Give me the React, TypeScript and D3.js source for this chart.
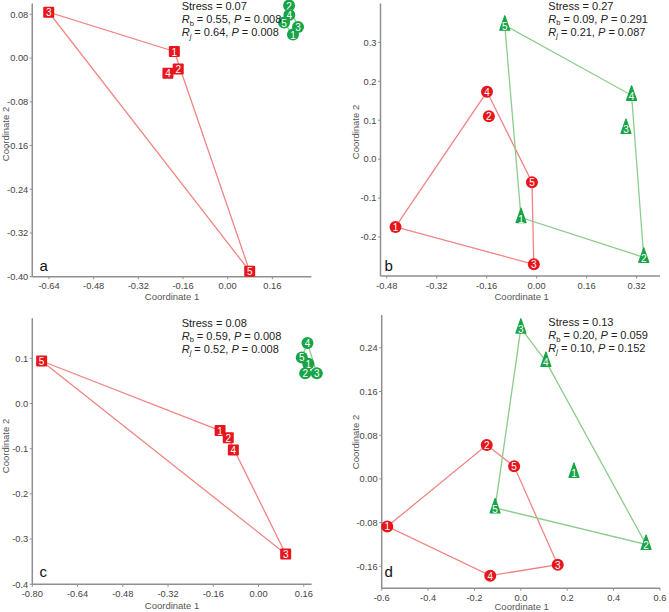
import React from 'react';
import * as d3 from 'd3';

// ---- Data ----
const pointIds = [1, 2, 3, 4, 5];

// Panel a
const aRedX = [-0.191, -0.177, -0.641, -0.214, 0.079];
const aRedY = [0.012, -0.020, 0.084, -0.028, -0.390];
const aGreenX = [0.234, 0.220, 0.252, 0.221, 0.202];
const aGreenY = [0.043, 0.096, 0.057, 0.079, 0.065];
const aXTicks = [-0.64, -0.48, -0.32, -0.16, 0.0, 0.16];
const aYTicks = [0.08, 0.0, -0.08, -0.16, -0.24, -0.32, -0.4];
const aStats = ['0.07', '0.55', '0.008', '0.64', '0.008'];

// Panel b
const bRedX = [-0.452, -0.153, -0.009, -0.159, -0.015];
const bRedY = [-0.174, 0.110, -0.270, 0.173, -0.059];
const bGreenX = [-0.050, 0.343, 0.286, 0.304, -0.102];
const bGreenY = [-0.150, -0.252, 0.079, 0.164, 0.344];
const bXTicks = [-0.48, -0.32, -0.16, 0.0, 0.16, 0.32];
const bYTicks = [0.3, 0.2, 0.1, 0.0, -0.1, -0.2];
const bStats = ['0.27', '0.09', '0.291', '0.21', '0.087'];

// Panel c
const cRedX = [-0.136, -0.107, 0.096, -0.089, -0.767];
const cRedY = [-0.060, -0.076, -0.333, -0.103, 0.094];
const cGreenX = [0.176, 0.165, 0.206, 0.173, 0.153];
const cGreenY = [0.088, 0.067, 0.067, 0.134, 0.102];
const cXTicks = [-0.8, -0.64, -0.48, -0.32, -0.16, 0.0, 0.16];
const cYTicks = [0.1, 0.0, -0.1, -0.2, -0.3, -0.4];
const cStats = ['0.08', '0.59', '0.008', '0.52', '0.008'];

// Panel d
const dRedX = [-0.576, -0.147, 0.159, -0.132, -0.029];
const dRedY = [-0.087, 0.062, -0.157, -0.177, 0.023];
const dGreenX = [0.229, 0.540, 0.000, 0.108, -0.111];
const dGreenY = [0.012, -0.120, 0.276, 0.215, -0.053];
const dXTicks = [-0.6, -0.4, -0.2, 0.0, 0.2, 0.4, 0.6];
const dYTicks = [0.24, 0.16, 0.08, 0.0, -0.08, -0.16];
const dStats = ['0.13', '0.20', '0.059', '0.10', '0.152'];

// ---- Styles ----
const FONT = '"Liberation Sans", Arial, Helvetica, sans-serif';
const RED = '#e8151d';
const GREEN = '#17a446';
const RED_LINE = '#f08585';
const GREEN_LINE = '#8ccc8c';
const AXIS = '#8f8f8f';
const TICK_TEXT = '#444';

type Shape = 'square' | 'circle' | 'triangle';

interface Panel {
  letter: string;
  stats: string[];
  xDomain: [number, number];
  yDomain: [number, number];
  xRange: [number, number];
  yRange: [number, number];
  xTicks: number[];
  yTicks: number[];
  xFmt: string;
  yFmt: string;
  red: { x: number[]; y: number[]; shape: Shape };
  green: { x: number[]; y: number[]; shape: Shape };
  statsPos: { x: number; ys: number[] };
  letterPos: [number, number];
  xTitlePos: [number, number];
  yTitlePos: [number, number];
}

const panels: Panel[] = [
  {
    letter: 'a', stats: aStats,
    xDomain: [-0.7, 0.3], yDomain: [-0.4, 0.1],
    xRange: [32.25, 311.4], yRange: [276.7, 3.4],
    xTicks: aXTicks, yTicks: aYTicks, xFmt: '.2f', yFmt: '.2f',
    red: { x: aRedX, y: aRedY, shape: 'square' },
    green: { x: aGreenX, y: aGreenY, shape: 'circle' },
    statsPos: { x: 181.7, ys: [10, 23, 36] },
    letterPos: [39.5, 270.7], xTitlePos: [172, 299.5], yTitlePos: [9, 134],
  },
  {
    letter: 'b', stats: bStats,
    xDomain: [-0.5, 0.395], yDomain: [-0.3, 0.4],
    xRange: [380.5, 660], yRange: [276, 3.4],
    xTicks: bXTicks, yTicks: bYTicks, xFmt: '.2f', yFmt: '.1f',
    red: { x: bRedX, y: bRedY, shape: 'circle' },
    green: { x: bGreenX, y: bGreenY, shape: 'triangle' },
    statsPos: { x: 548.3, ys: [9.5, 22.5, 35.5] },
    letterPos: [384.5, 270.5], xTitlePos: [521.7, 299.5], yTitlePos: [359, 132],
  },
  {
    letter: 'c', stats: cStats,
    xDomain: [-0.8, 0.188], yDomain: [-0.4, 0.1885],
    xRange: [32.3, 311.7], yRange: [584.3, 318.3],
    xTicks: cXTicks, yTicks: cYTicks, xFmt: '.2f', yFmt: '.1f',
    red: { x: cRedX, y: cRedY, shape: 'square' },
    green: { x: cGreenX, y: cGreenY, shape: 'circle' },
    statsPos: { x: 181.7, ys: [327.3, 339.9, 352.7] },
    letterPos: [39.5, 576.7], xTitlePos: [172, 609], yTitlePos: [9, 446],
  },
  {
    letter: 'd', stats: dStats,
    xDomain: [-0.6, 0.6], yDomain: [-0.2, 0.3],
    xRange: [381.7, 660], yRange: [588.2, 315],
    xTicks: dXTicks, yTicks: dYTicks, xFmt: '.1f', yFmt: '.2f',
    red: { x: dRedX, y: dRedY, shape: 'circle' },
    green: { x: dGreenX, y: dGreenY, shape: 'triangle' },
    statsPos: { x: 548.3, ys: [326.3, 339, 351.7] },
    letterPos: [384.5, 576.7], xTitlePos: [521.7, 610], yTitlePos: [359, 442],
  },
];

function Marker({ x, y, shape, color, label }: { x: number; y: number; shape: Shape; color: string; label: number }) {
  let shapeEl: React.ReactNode;
  let ty = y + 0.5;
  if (shape === 'square') {
    shapeEl = <rect x={x - 5.5} y={y - 5.5} width={11} height={11} rx={1} fill={color} />;
  } else if (shape === 'circle') {
    shapeEl = <circle cx={x} cy={y} r={6} fill={color} />;
  } else {
    shapeEl = (
      <path
        d={`M${x},${y - 9.5} L${x + 5},${y + 5} L${x - 5},${y + 5} Z`}
        fill={color}
        stroke={color}
        strokeWidth={1.2}
        strokeLinejoin="round"
      />
    );
    ty = y + 1.5;
  }
  return (
    <g>
      {shapeEl}
      <text x={x} y={ty} fill="#fff" fontSize={10} fontFamily={FONT} textAnchor="middle" dominantBaseline="central">
        {label}
      </text>
    </g>
  );
}

function PanelView({ p }: { p: Panel }) {
  const xs = d3.scaleLinear().domain(p.xDomain).range(p.xRange);
  const ys = d3.scaleLinear().domain(p.yDomain).range(p.yRange);
  const xf = d3.format(p.xFmt);
  const yf = d3.format(p.yFmt);
  const fmt = (f: (n: number) => string, v: number) => f(v).replace('−', '-');

  const groups = [
    { data: p.red, color: RED, line: RED_LINE },
    { data: p.green, color: GREEN, line: GREEN_LINE },
  ];

  const [x0, x1] = p.xRange;
  const [yb, yt] = p.yRange;

  return (
    <g>
      {/* axes */}
      <line x1={x0} x2={x0} y1={yt} y2={yb} stroke={AXIS} strokeWidth={1.5} />
      <line x1={x0} x2={x1} y1={yb} y2={yb} stroke={AXIS} strokeWidth={1.5} />
      {p.yTicks.map((t) => (
        <g key={'y' + t}>
          <line x1={x0 - 2.5} x2={x0} y1={ys(t)} y2={ys(t)} stroke={AXIS} strokeWidth={1} />
          <text x={x0 - 4} y={ys(t) + 3.3} fontSize={9.3} fontFamily={FONT} fill={TICK_TEXT} textAnchor="end">
            {fmt(yf, t)}
          </text>
        </g>
      ))}
      {p.xTicks.map((t) => (
        <g key={'x' + t}>
          <line x1={xs(t)} x2={xs(t)} y1={yb} y2={yb + 2.5} stroke={AXIS} strokeWidth={1} />
          <text x={xs(t)} y={yb + 12.5} fontSize={9.3} fontFamily={FONT} fill={TICK_TEXT} textAnchor="middle">
            {fmt(xf, t)}
          </text>
        </g>
      ))}
      <text x={p.xTitlePos[0]} y={p.xTitlePos[1]} fontSize={9.5} fontFamily={FONT} fill="#555" textAnchor="middle">
        Coordinate 1
      </text>
      <text
        transform={`translate(${p.yTitlePos[0]},${p.yTitlePos[1]}) rotate(-90)`}
        fontSize={9.5}
        fontFamily={FONT}
        fill="#555"
        textAnchor="middle"
      >
        Coordinate 2
      </text>
      {/* hulls */}
      {groups.map((g, gi) => {
        const pts: [number, number][] = g.data.x.map((v, i) => [xs(v), ys(g.data.y[i])]);
        const hull = d3.polygonHull(pts);
        if (!hull) return null;
        return (
          <path
            key={'h' + gi}
            d={'M' + hull.map((q) => q.join(',')).join('L') + 'Z'}
            fill="none"
            stroke={g.line}
            strokeWidth={1.3}
          />
        );
      })}
      {/* markers */}
      {groups.map((g, gi) =>
        g.data.x.map((v, i) => (
          <Marker
            key={'m' + gi + '-' + i}
            x={xs(v)}
            y={ys(g.data.y[i])}
            shape={g.data.shape}
            color={g.color}
            label={pointIds[i]}
          />
        ))
      )}
      {/* stats */}
      <text x={p.statsPos.x} y={p.statsPos.ys[0]} fontSize={11} fontFamily={FONT} fill="#222">
        Stress = {p.stats[0]}
      </text>
      <text x={p.statsPos.x} y={p.statsPos.ys[1]} fontSize={11} fontFamily={FONT} fill="#222">
        <tspan fontStyle="italic">R</tspan>
        <tspan fontSize={7.5} dy={2.5}>b</tspan>
        <tspan dy={-2.5}>{` = ${p.stats[1]}, `}</tspan>
        <tspan fontStyle="italic">P</tspan>
        <tspan>{` = ${p.stats[2]}`}</tspan>
      </text>
      <text x={p.statsPos.x} y={p.statsPos.ys[2]} fontSize={11} fontFamily={FONT} fill="#222">
        <tspan fontStyle="italic">R</tspan>
        <tspan fontSize={7.5} dy={2.5} fontStyle="italic">j</tspan>
        <tspan dy={-2.5}>{` = ${p.stats[3]}, `}</tspan>
        <tspan fontStyle="italic">P</tspan>
        <tspan>{` =  ${p.stats[4]}`}</tspan>
      </text>
      {/* letter */}
      <text x={p.letterPos[0]} y={p.letterPos[1]} fontSize={15} fontFamily={FONT} fill="#111">
        {p.letter}
      </text>
    </g>
  );
}

export default function App() {
  return (
    <svg
      width={669}
      height={612}
      viewBox="0 0 669 612"
      style={{ position: 'absolute', left: 0, top: 0, background: '#fff' }}
    >
      <rect x={0} y={0} width={669} height={612} fill="#fff" />
      {panels.map((p) => (
        <PanelView key={p.letter} p={p} />
      ))}
    </svg>
  );
}
